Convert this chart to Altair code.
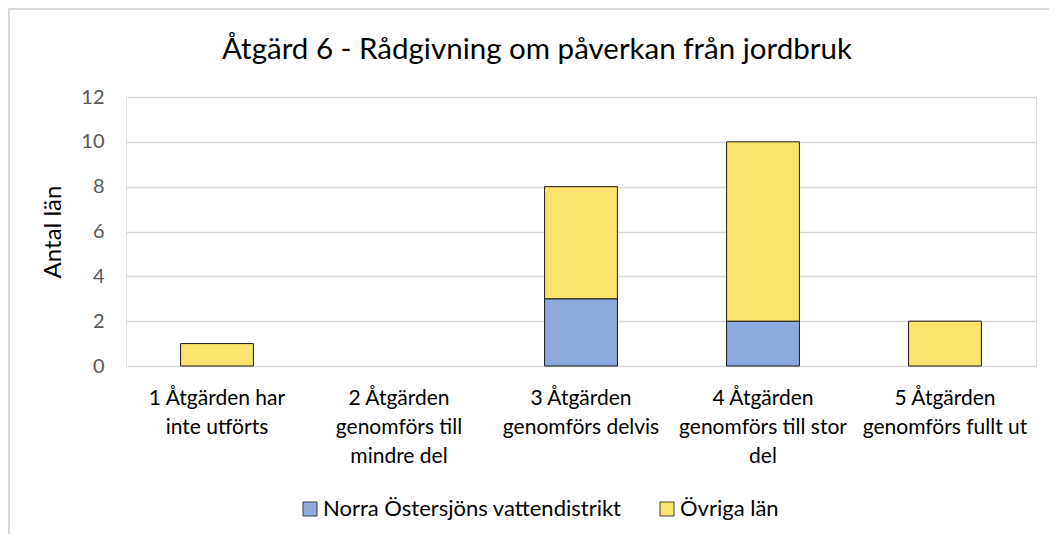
import altair as alt
import pandas as pd

categories = [
    "1 Åtgärden har\ninte utförts",
    "2 Åtgärden\ngenomförs till\nmindre del",
    "3 Åtgärden\ngenomförs delvis",
    "4 Åtgärden\ngenomförs till stor\ndel",
    "5 Åtgärden\ngenomförs fullt ut",
]
series_names = ["Norra Östersjöns vattendistrikt", "Övriga län"]
norra = [0, 0, 3, 2, 0]
ovriga = [1, 0, 5, 8, 2]
y_ticks = [0, 2, 4, 6, 8, 10, 12]
colors = ["#8FAADC", "#FBE46D"]

rows = []
for i, c in enumerate(categories):
    rows.append({"kategori": c, "serie": series_names[0], "antal": norra[i], "ordning": 0})
    rows.append({"kategori": c, "serie": series_names[1], "antal": ovriga[i], "ordning": 1})
df = pd.DataFrame(rows)

FONT = "Lato"
W, H = 910, 269

bars = (
    alt.Chart(df)
    .transform_filter("datum.antal > 0")
    .mark_bar(stroke="#1a1a1a", strokeWidth=1)
    .encode(
        x=alt.X(
            "kategori:N",
            sort=categories,
            scale=alt.Scale(domain=categories, paddingInner=0.6, paddingOuter=0.3),
            axis=alt.Axis(
                title=None,
                labelAngle=0,
                labelExpr="split(datum.label, '\\n')",
                labelFontSize=21,
                labelFont=FONT,
                labelColor="#000000",
                labelLineHeight=29,
                labelPadding=21,
                labelBaseline="top",
                labelLimit=400,
                ticks=False,
                domain=False,
                grid=False,
            ),
        ),
        y=alt.Y(
            "antal:Q",
            stack="zero",
            scale=alt.Scale(domain=[0, 12], nice=False),
            axis=alt.Axis(
                values=y_ticks,
                title="Antal län",
                titleFont=FONT,
                titleFontSize=24,
                titleFontWeight="normal",
                titleColor="#000000",
                titleX=-73,
                titleY=H / 2,
                titleAlign="center",
                titleBaseline="middle",
                labelFont=FONT,
                labelFontSize=20,
                labelColor="#595959",
                labelPadding=22,
                ticks=False,
                domain=False,
                grid=True,
                gridColor="#d9d9d9",
                gridWidth=1.5,
            ),
        ),
        color=alt.Color(
            "serie:N",
            scale=alt.Scale(domain=series_names, range=colors),
            legend=alt.Legend(
                title=None,
                orient="none",
                direction="horizontal",
                legendX=173,
                legendY=401,
                symbolType="square",
                symbolSize=196,
                symbolStrokeColor="#404040",
                symbolStrokeWidth=1,
                labelFont=FONT,
                labelFontSize=22,
                labelColor="#000000",
                labelOffset=2,
                labelLimit=500,
                columnPadding=34,
            ),
        ),
        order=alt.Order("ordning:Q"),
    )
)

border = (
    alt.Chart(pd.DataFrame({"ram": [0]}))
    .mark_rect(filled=False, stroke="#d9d9d9", strokeWidth=2)
    .encode(
        x=alt.value(-117),
        x2=alt.value(1200),
        y=alt.value(-88),
        y2=alt.value(700),
    )
)

chart = (
    alt.layer(border, bars)
    .properties(
        width=W,
        height=H,
        title=alt.TitleParams(
            "Åtgärd 6 - Rådgivning om påverkan från jordbruk",
            font=FONT,
            fontSize=29.5,
            fontWeight="normal",
            color="#000000",
            anchor="middle",
            baseline="alphabetic",
            dx=-44,
            dy=80,
            offset=0,
        ),
        autosize=alt.AutoSizeParams(type="none"),
        padding={"left": 118, "top": 89, "right": 13, "bottom": 168},
    )
    .configure_view(stroke=None)
    .configure(font=FONT)
)

chart.save("out.html", embed_options={"renderer": "svg", "actions": False})
